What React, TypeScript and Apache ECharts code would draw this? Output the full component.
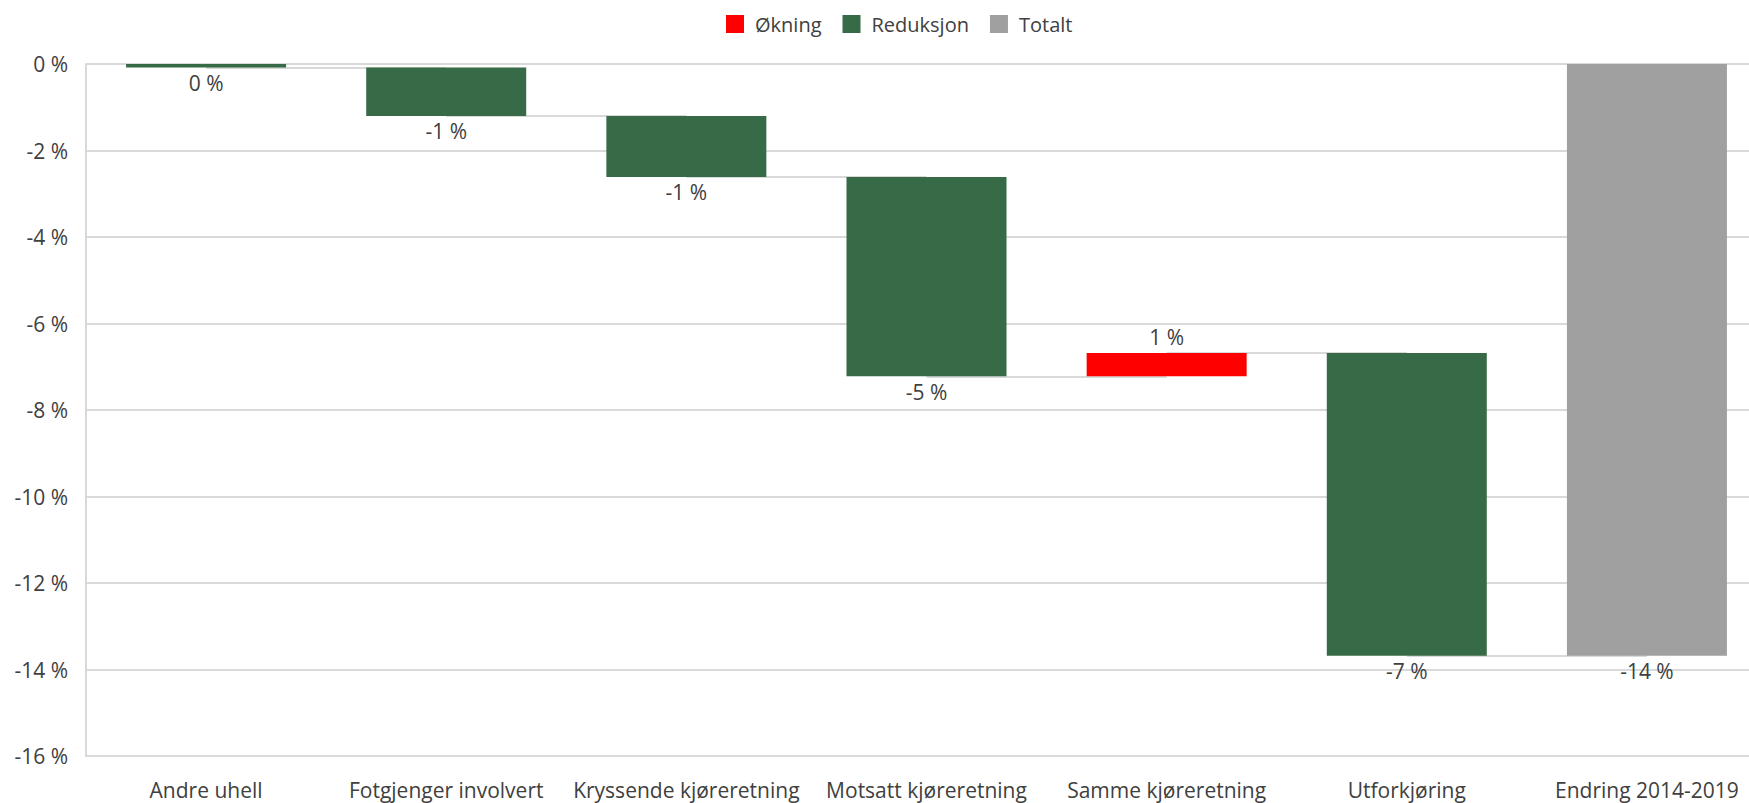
import React, { useEffect, useRef } from "react";
import * as echarts from "echarts";

const categories = [
  "Andre uhell",
  "Fotgjenger involvert",
  "Kryssende kjøreretning",
  "Motsatt kjøreretning",
  "Samme kjøreretning",
  "Utforkjøring",
  "Endring 2014-2019",
];
// change per category (percentage points); last category is the total
const changes = [-0.08, -1.12, -1.41, -4.61, 0.54, -7.0];
const totalValue = -13.68;
const yTicks = { min: -16, max: 0, interval: 2 };
const legendNames = ["Økning", "Reduksjon", "Totalt"];

const COLORS = { up: "#FF0000", down: "#376A47", total: "#A0A0A0", grid: "#D9D9D9", text: "#404040" };
const FONT = "'Open Sans', 'Noto Sans', sans-serif";

export default function App() {
  const ref = useRef<HTMLDivElement>(null);
  useEffect(() => {
    if (!ref.current) return;
    const chart = echarts.init(ref.current, null, { renderer: "svg" });

    const base: any[] = [];
    const up: any[] = [];
    const down: any[] = [];
    const tot: any[] = [];
    const levels: number[] = [];
    const labelVals: number[] = [];
    let running = 0;
    changes.forEach((d) => {
      const start = running;
      const end = running + d;
      const top = Math.max(start, end);
      const bottom = Math.min(start, end);
      base.push(top);
      up.push(d > 0 ? bottom - top : "-");
      down.push(d > 0 ? "-" : bottom - top);
      tot.push("-");
      running = end;
      levels.push(end);
      labelVals.push(d);
    });
    base.push(0);
    up.push("-");
    down.push("-");
    tot.push(totalValue);
    labelVals.push(totalValue);

    const fmt = (p: any) => `${Math.round(labelVals[p.dataIndex]) + 0} %`;
    const labelBase = { show: true, formatter: fmt, fontSize: 21, color: COLORS.text, fontFamily: FONT, distance: 5 };

    const connectors = levels.map((lv, i) => [
      { coord: [categories[i], lv] },
      { coord: [categories[i + 1], lv] },
    ]);

    chart.setOption({
      animation: false,
      textStyle: { fontFamily: FONT },
      legend: {
        data: legendNames,
        left: 721,
        top: 9,
        itemWidth: 18,
        itemHeight: 18,
        itemGap: 21,
        icon: "rect",
        textStyle: { fontSize: 20, color: COLORS.text, fontFamily: FONT, padding: [0, 0, 0, 6] },
      },
      grid: { left: 86, top: 64, width: 1681, height: 692, containLabel: false },
      xAxis: {
        type: "category",
        data: categories,
        axisLine: { onZero: false, lineStyle: { color: COLORS.grid, width: 2 } },
        axisTick: { show: false },
        axisLabel: { fontSize: 21, color: COLORS.text, fontFamily: FONT, margin: 23, interval: 0 },
      },
      yAxis: {
        type: "value",
        min: yTicks.min,
        max: yTicks.max,
        interval: yTicks.interval,
        axisLine: { show: true, lineStyle: { color: COLORS.grid, width: 2 } },
        axisTick: { show: false },
        splitLine: { lineStyle: { color: COLORS.grid, width: 2 } },
        axisLabel: { fontSize: 21, color: COLORS.text, fontFamily: FONT, margin: 18, formatter: (v: number) => `${v} %` },
      },
      series: [
        {
          type: "line",
          data: [],
          z: 1,
          silent: true,
          markLine: {
            z: 1,
            symbol: "none",
            silent: true,
            label: { show: false },
            lineStyle: { color: COLORS.grid, width: 2, type: "solid" },
            emphasis: { disabled: true },
            data: connectors,
          },
        },
        {
          name: "base",
          type: "bar",
          stack: "w",
          data: base,
          barWidth: 160,
          z: 3,
          itemStyle: { color: "transparent" },
          silent: true,
        },
        {
          name: "Økning",
          type: "bar",
          stack: "w",
          data: up,
          barWidth: 160,
          z: 3,
          itemStyle: { color: COLORS.up },
          label: { ...labelBase, position: "top" },
        },
        {
          name: "Reduksjon",
          type: "bar",
          stack: "w",
          data: down,
          barWidth: 160,
          z: 3,
          itemStyle: { color: COLORS.down },
          label: { ...labelBase, position: "bottom" },
        },
        {
          name: "Totalt",
          type: "bar",
          stack: "w",
          data: tot,
          barWidth: 160,
          z: 3,
          itemStyle: { color: COLORS.total },
          label: { ...labelBase, position: "bottom" },
        },
      ],
    });
    return () => chart.dispose();
  }, []);
  return (
    <div style={{ position: "absolute", left: 0, top: 0, width: 1749, height: 803, background: "#fff", overflow: "hidden" }}>
      <div ref={ref} style={{ width: 1770, height: 803 }} />
    </div>
  );
}
